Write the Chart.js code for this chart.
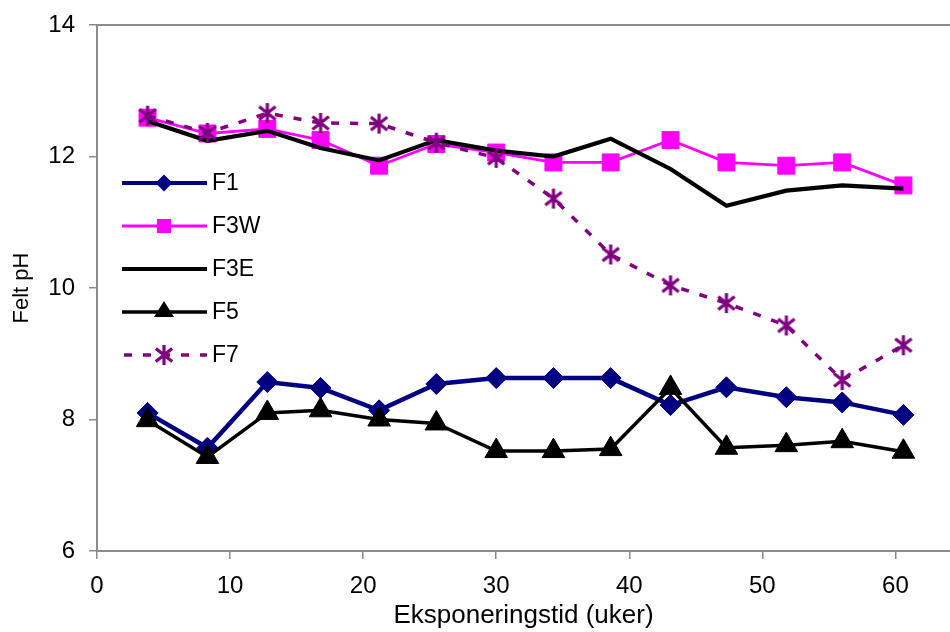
<!DOCTYPE html>
<html>
<head>
<meta charset="utf-8">
<script src="https://cdn.jsdelivr.net/npm/chart.js@4/dist/chart.umd.min.js"></script>
<style>
html,body{margin:0;padding:0;background:#fff;}
#c{display:block;}
</style>
</head>
<body>
<canvas id="c" width="950" height="632"></canvas>
<script>
// ---- data ----
const weeks = [3.8, 8.3, 12.8, 16.8, 21.2, 25.5, 30.0, 34.3, 38.6, 43.1, 47.3, 51.8, 56.0, 60.6];
const seriesNames = ['F1', 'F3W', 'F3E', 'F5', 'F7'];
const f1  = [8.10, 7.57, 8.57, 8.48, 8.14, 8.54, 8.63, 8.63, 8.63, 8.22, 8.49, 8.34, 8.26, 8.07];
const f3w = [12.59, 12.35, 12.42, 12.25, 11.86, 12.19, 12.06, 11.91, 11.91, 12.25, 11.91, 11.86, 11.91, 11.56];
const f3e = [12.54, 12.24, 12.39, 12.13, 11.94, 12.25, 12.09, 12.00, 12.27, 11.81, 11.25, 11.48, 11.56, 11.51];
const f5  = [7.99, 7.43, 8.10, 8.14, 8.00, 7.94, 7.52, 7.52, 7.55, 8.48, 7.57, 7.61, 7.67, 7.51];
const f7  = [12.62, 12.36, 12.66, 12.51, 12.50, 12.21, 11.98, 11.36, 10.51, 10.04, 9.77, 9.43, 8.60, 9.13];
const xTicks = [0, 10, 20, 30, 40, 50, 60];
const yTicks = [6, 8, 10, 12, 14];
const xMax = 64.1;
const xTitle = 'Eksponeringstid (uker)';
const yTitle = 'Felt pH';

function pts(vals){ return vals.map((v,i)=>({x:weeks[i], y:v})); }

// asterisk marker
function makeAsterisk(color, size, lw){
  const c = document.createElement('canvas');
  c.width = size; c.height = size;
  const g = c.getContext('2d');
  g.strokeStyle = color; g.lineWidth = lw; g.lineCap = 'butt';
  const m = size/2, r = size/2 - 1;
  g.beginPath();
  g.moveTo(m, m - r); g.lineTo(m, m + r);
  const d = r*0.82;
  g.moveTo(m - d, m - d*0.8); g.lineTo(m + d, m + d*0.8);
  g.moveTo(m + d, m - d*0.8); g.lineTo(m - d, m + d*0.8);
  g.stroke();
  return c;
}
const star = makeAsterisk('#800080', 22, 3.2);

const GRAY = '#8a8a8a';
const FONT = "'Liberation Sans', Arial, sans-serif";

const datasets = [
  {label: seriesNames[0], data: pts(f1), borderColor:'#000080', backgroundColor:'#000080',
   borderWidth:4.5, pointStyle:'rectRot', pointRadius:10.5, pointBorderWidth:1, order:5},
  {label: seriesNames[1], data: pts(f3w), borderColor:'#ff00ff', backgroundColor:'#ff00ff',
   borderWidth:2.8, pointStyle:'rect', pointRadius:12, pointBorderWidth:1, order:4},
  {label: seriesNames[2], data: pts(f3e), borderColor:'#000000', backgroundColor:'#000000',
   borderWidth:4.2, pointRadius:0, order:3},
  {label: seriesNames[3], data: pts(f5), borderColor:'#000000', backgroundColor:'#000000',
   borderWidth:3.5, pointStyle:'triangle', pointRadius:13, pointBorderWidth:1, order:2},
  {label: seriesNames[4], data: pts(f7), borderColor:'#800080', backgroundColor:'#800080',
   borderWidth:3.5, borderDash:[8,11], pointStyle:star, pointRadius:11, order:1}
];

const frame = {
  id:'frame',
  afterDraw(chart){
    const {ctx, chartArea:a} = chart;
    ctx.save();
    ctx.strokeStyle = GRAY; ctx.lineWidth = 2;
    ctx.beginPath(); ctx.moveTo(a.left-1, a.top); ctx.lineTo(950, a.top); ctx.stroke();
    ctx.restore();
  }
};

const legendIn = {
  id:'legendIn',
  afterDraw(chart){
    const ctx = chart.ctx;
    ctx.save();
    const x0 = 122, x1 = 207, mx = 164, tx = 212;
    chart.data.datasets.forEach((ds, i) => {
      const y = 183 + i*43;
      ctx.strokeStyle = ds.borderColor;
      ctx.lineWidth = Math.min(ds.borderWidth, 4);
      ctx.setLineDash(ds.borderDash || []);
      if (ds.borderDash) ctx.lineDashOffset = -2;
      ctx.beginPath(); ctx.moveTo(x0, y); ctx.lineTo(x1, y); ctx.stroke();
      ctx.setLineDash([]);
      ctx.fillStyle = ds.backgroundColor;
      const st = ds.pointStyle;
      if (ds.pointRadius > 0) {
        if (st === 'rectRot') {
          const r = 8.5;
          ctx.beginPath(); ctx.moveTo(mx, y-r); ctx.lineTo(mx+r, y); ctx.lineTo(mx, y+r); ctx.lineTo(mx-r, y); ctx.closePath(); ctx.fill();
        } else if (st === 'rect') {
          ctx.fillRect(mx-7, y-7, 14, 14);
        } else if (st === 'triangle') {
          ctx.beginPath(); ctx.moveTo(mx, y-11); ctx.lineTo(mx+10, y+5); ctx.lineTo(mx-10, y+5); ctx.closePath(); ctx.fill();
        } else if (st instanceof HTMLCanvasElement) {
          ctx.drawImage(st, mx - st.width/2, y - st.height/2);
        }
      }
      ctx.fillStyle = '#000';
      ctx.font = '23px ' + FONT;
      ctx.textBaseline = 'middle';
      ctx.textAlign = 'left';
      ctx.fillText(ds.label, tx, y+1);
    });
    ctx.restore();
  }
};

new Chart(document.getElementById('c'), {
  type:'line',
  data:{datasets},
  options:{
    responsive:false,
    animation:false,
    events:[],
    layout:{autoPadding:false, padding:{top:25, right:0, left:0, bottom:0}},
    plugins:{legend:{display:false}, tooltip:{enabled:false}},
    elements:{line:{tension:0}},
    scales:{
      x:{
        type:'linear', min:0, max:xMax,
        afterBuildTicks(s){ s.ticks = xTicks.map(v=>({value:v})).concat([{value:xMax}]); },
        afterFit(s){ s.height = 81; s.paddingLeft = 0; s.paddingRight = 0; },
        grid:{display:true, drawOnChartArea:false, drawTicks:true, tickLength:8,
              color:(c)=> (c.tick && xTicks.includes(c.tick.value)) ? GRAY : 'rgba(0,0,0,0)', lineWidth:1.5},
        border:{display:true, color:GRAY, width:2},
        ticks:{font:{family:FONT, size:24}, color:'#000', padding:13, maxRotation:0, autoSkip:false,
               callback:(v)=> xTicks.includes(v) ? String(v) : ''},
        title:{display:true, text:xTitle, font:{family:FONT, size:26}, color:'#000', padding:{top:0, bottom:1}}
      },
      y:{
        type:'linear', min:6, max:14,
        afterBuildTicks(s){ s.ticks = yTicks.map(v=>({value:v})); },
        afterFit(s){ s.width = 97; s.paddingTop = 0; s.paddingBottom = 0; },
        grid:{display:true, drawOnChartArea:false, drawTicks:true, tickLength:8, color:GRAY, lineWidth:1.5},
        border:{display:true, color:GRAY, width:2},
        ticks:{font:{family:FONT, size:24}, color:'#000', padding:14},
        title:{display:true, text:yTitle, font:{family:FONT, size:22}, color:'#000', padding:{top:9, bottom:0}}
      }
    }
  },
  plugins:[frame, legendIn]
});
</script>
</body>
</html>
